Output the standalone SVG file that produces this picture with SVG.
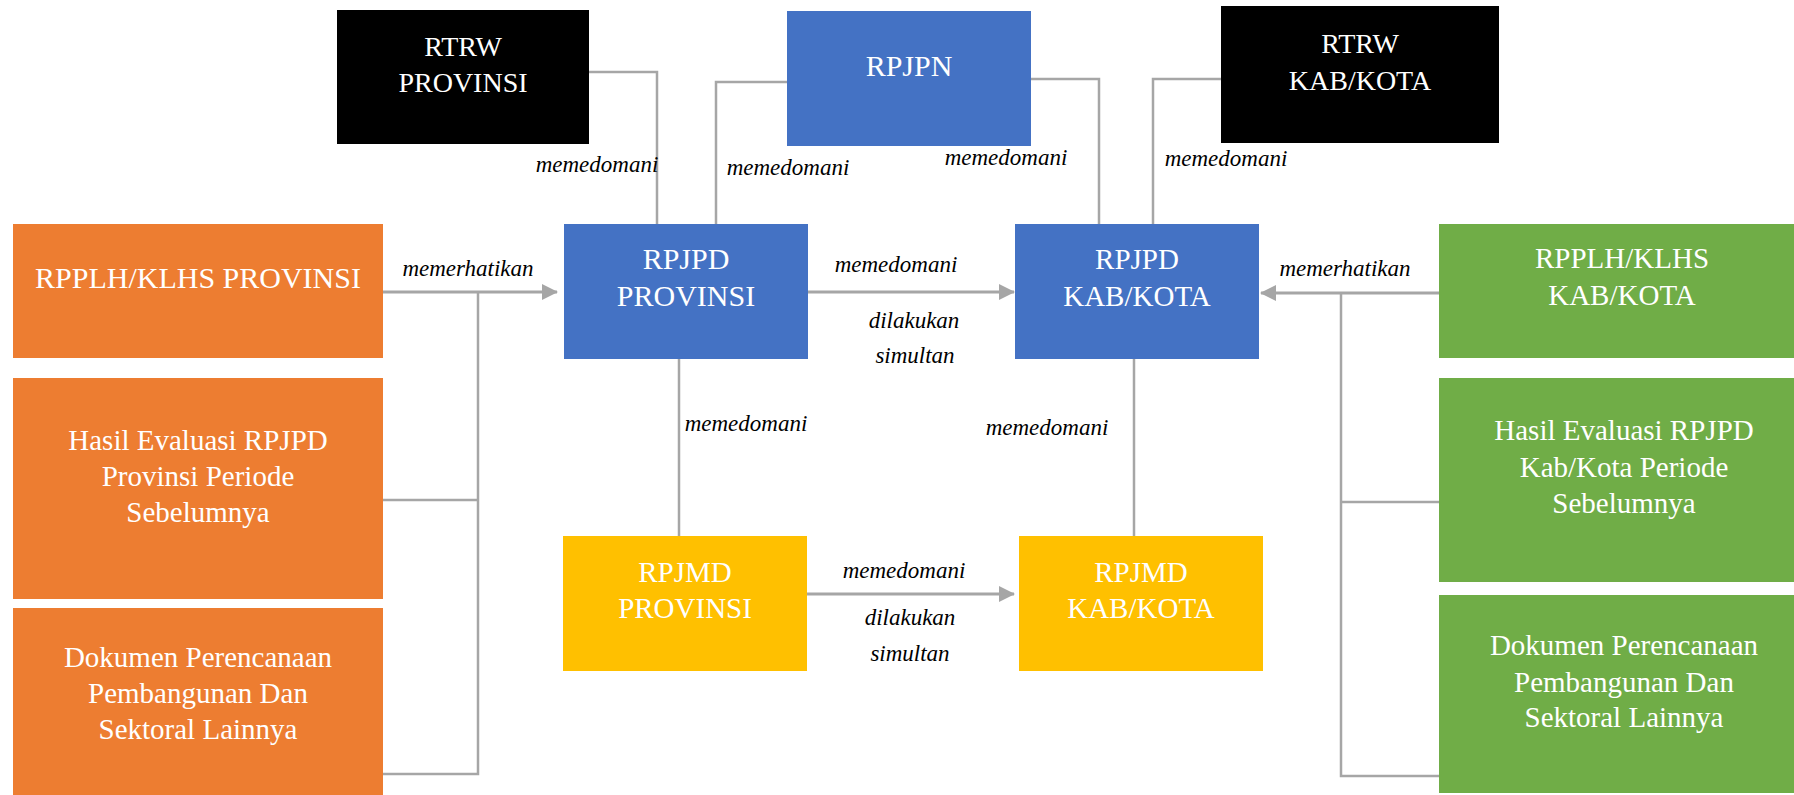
<svg xmlns="http://www.w3.org/2000/svg" width="1794" height="795" viewBox="0 0 1794 795">
<defs>
<style>
.box text{font-family:"Liberation Serif","Times New Roman",serif;fill:#ffffff;text-anchor:middle;font-size:29px}
.lbl{font-family:"Liberation Serif","Times New Roman",serif;font-style:italic;font-size:23px;fill:#000000;text-anchor:middle}
.con{fill:none;stroke:#A6A6A6;stroke-width:2.5}
.arr{fill:none;stroke:#A6A6A6;stroke-width:3;marker-end:url(#ah)}
.black{fill:#000000}.blue{fill:#4472C4}.orange{fill:#ED7D31}.green{fill:#70AD47}.yellow{fill:#FFC000}
</style>
<marker id="ah" markerUnits="userSpaceOnUse" markerWidth="16" markerHeight="16" refX="15" refY="8" orient="auto">
<path d="M0,0 L16,8 L0,16 z" fill="#A6A6A6"/>
</marker>
</defs>
<rect width="1794" height="795" fill="#ffffff"/>

<g id="connectors">
<path class="con" d="M589 72 H657 V224"/>
<path class="con" d="M787 82 H716 V224"/>
<path class="con" d="M1031 79 H1099 V224"/>
<path class="con" d="M1221 79 H1153 V224"/>
<path class="arr" d="M808 292 H1014"/>
<path class="con" d="M679 359 V536"/>
<path class="con" d="M1134 359 V536"/>
<path class="arr" d="M807 594 H1014"/>
<path class="arr" d="M383 292 H557"/>
<path class="con" d="M478 292 V774 H383"/>
<path class="con" d="M383 500 H478"/>
<path class="arr" d="M1439 293 H1261"/>
<path class="con" d="M1341 293 V776 H1439"/>
<path class="con" d="M1341 502 H1439"/>
<text class="lbl" x="597" y="172">memedomani</text>
<text class="lbl" x="788" y="175">memedomani</text>
<text class="lbl" x="1006" y="165">memedomani</text>
<text class="lbl" x="1226" y="166">memedomani</text>
<text class="lbl" x="896" y="272">memedomani</text>
<text class="lbl" x="914" y="328">dilakukan</text>
<text class="lbl" x="915" y="363">simultan</text>
<text class="lbl" x="746" y="431">memedomani</text>
<text class="lbl" x="1047" y="435">memedomani</text>
<text class="lbl" x="904" y="578">memedomani</text>
<text class="lbl" x="910" y="625">dilakukan</text>
<text class="lbl" x="910" y="661">simultan</text>
<text class="lbl" x="468" y="276">memerhatikan</text>
<text class="lbl" x="1345" y="276">memerhatikan</text>
</g>

<g id="rtrw-provinsi" class="box">
<rect class="black" x="337" y="10" width="252" height="134"/>
<text x="463" y="56" style="font-size:28px">RTRW</text>
<text x="463" y="92" style="font-size:28px">PROVINSI</text>
</g>
<g id="rpjpn" class="box">
<rect class="blue" x="787" y="11" width="244" height="135"/>
<text x="909" y="76" style="font-size:30px">RPJPN</text>
</g>
<g id="rtrw-kabkota" class="box">
<rect class="black" x="1221" y="6" width="278" height="137"/>
<text x="1360" y="53" style="font-size:28px">RTRW</text>
<text x="1360" y="90" style="font-size:28px">KAB/KOTA</text>
</g>
<g id="rpplh-provinsi" class="box">
<rect class="orange" x="13" y="224" width="370" height="134"/>
<text x="198" y="288" style="font-size:30px">RPPLH/KLHS PROVINSI</text>
</g>
<g id="rpjpd-provinsi" class="box">
<rect class="blue" x="564" y="224" width="244" height="135"/>
<text x="686" y="269" style="font-size:30px">RPJPD</text>
<text x="686" y="306" style="font-size:30px">PROVINSI</text>
</g>
<g id="rpjpd-kabkota" class="box">
<rect class="blue" x="1015" y="224" width="244" height="135"/>
<text x="1137" y="269">RPJPD</text>
<text x="1137" y="306">KAB/KOTA</text>
</g>
<g id="rpplh-kabkota" class="box">
<rect class="green" x="1439" y="224" width="370" height="134"/>
<text x="1622" y="268">RPPLH/KLHS</text>
<text x="1622" y="305">KAB/KOTA</text>
</g>
<g id="hasil-evaluasi-provinsi" class="box">
<rect class="orange" x="13" y="378" width="370" height="221"/>
<text x="198" y="450">Hasil Evaluasi RPJPD</text>
<text x="198" y="486">Provinsi Periode</text>
<text x="198" y="522">Sebelumnya</text>
</g>
<g id="dokumen-provinsi" class="box">
<rect class="orange" x="13" y="608" width="370" height="190"/>
<text x="198" y="667">Dokumen Perencanaan</text>
<text x="198" y="703">Pembangunan Dan</text>
<text x="198" y="739">Sektoral Lainnya</text>
</g>
<g id="hasil-evaluasi-kabkota" class="box">
<rect class="green" x="1439" y="378" width="370" height="204"/>
<text x="1624" y="440">Hasil Evaluasi RPJPD</text>
<text x="1624" y="477">Kab/Kota Periode</text>
<text x="1624" y="513">Sebelumnya</text>
</g>
<g id="dokumen-kabkota" class="box">
<rect class="green" x="1439" y="595" width="370" height="198"/>
<text x="1624" y="655">Dokumen Perencanaan</text>
<text x="1624" y="692">Pembangunan Dan</text>
<text x="1624" y="727">Sektoral Lainnya</text>
</g>
<g id="rpjmd-provinsi" class="box">
<rect class="yellow" x="563" y="536" width="244" height="135"/>
<text x="685" y="582">RPJMD</text>
<text x="685" y="618">PROVINSI</text>
</g>
<g id="rpjmd-kabkota" class="box">
<rect class="yellow" x="1019" y="536" width="244" height="135"/>
<text x="1141" y="582">RPJMD</text>
<text x="1141" y="618">KAB/KOTA</text>
</g>
</svg>
